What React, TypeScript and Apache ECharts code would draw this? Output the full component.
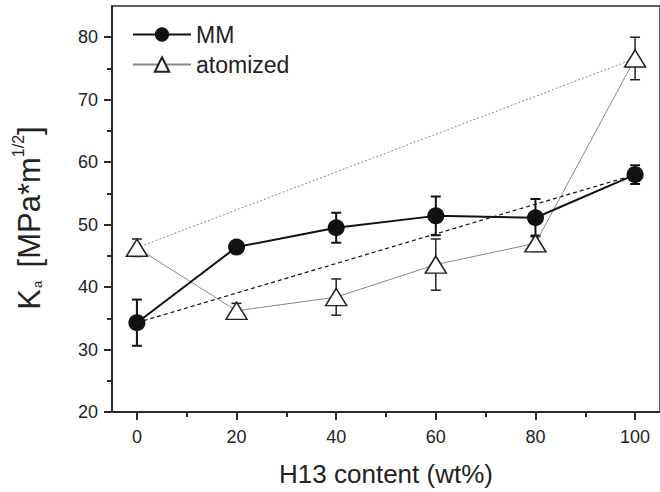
import React, { useEffect, useRef } from 'react';
import * as echarts from 'echarts';

const xValues = [0, 20, 40, 60, 80, 100];
const mmValues = [34.3, 46.4, 49.5, 51.4, 51.1, 58.0];
const mmErrors = [3.7, 0.6, 2.4, 3.1, 3.0, 1.5];
const atomValues = [46.3, 36.2, 38.4, 43.6, 47.0, 76.6];
const atomErrors = [1.4, 1.2, 2.9, 4.1, 1.3, 3.4];
const xMajorTicks = [0, 20, 40, 60, 80, 100];
const xMinorTicks = [10, 30, 50, 70, 90];
const yMajorTicks = [20, 30, 40, 50, 60, 70, 80];
const yMinorTicks = [25, 35, 45, 55, 65, 75];

const FONT = '"Liberation Sans", Arial, Helvetica, sans-serif';
const AXIS = '#2a2a2a';

function errorSeries(values: number[], errors: number[], color: string, width: number) {
  return {
    type: 'custom',
    z: 2,
    silent: true,
    data: xValues.map((x, i) => [x, values[i] - errors[i], values[i] + errors[i]]),
    encode: { x: 0, y: [1, 2] },
    renderItem: (params: any, api: any) => {
      const x = api.value(0);
      const lo = api.coord([x, api.value(1)]);
      const hi = api.coord([x, api.value(2)]);
      const w = 5;
      const style = { stroke: color, lineWidth: width };
      return {
        type: 'group',
        children: [
          { type: 'line', shape: { x1: hi[0], y1: hi[1], x2: lo[0], y2: lo[1] }, style },
          { type: 'line', shape: { x1: hi[0] - w, y1: hi[1], x2: hi[0] + w, y2: hi[1] }, style },
          { type: 'line', shape: { x1: lo[0] - w, y1: lo[1], x2: lo[0] + w, y2: lo[1] }, style },
        ],
      };
    },
  };
}

export default function App() {
  const ref = useRef<HTMLDivElement>(null);
  useEffect(() => {
    if (!ref.current) return;
    const chart = echarts.init(ref.current, null, { renderer: 'svg' });
    const last = xValues.length - 1;
    chart.setOption({
      animation: false,
      backgroundColor: '#fff',
      textStyle: { fontFamily: FONT },
      grid: {
        left: 112, right: -7, top: 6, bottom: 79,
        show: true, borderColor: AXIS, borderWidth: 1.5, backgroundColor: 'transparent',
      },
      legend: {
        orient: 'vertical',
        left: 132,
        top: 23,
        padding: 0,
        itemWidth: 58,
        itemHeight: 18,
        itemGap: 7,
        data: ['MM', 'atomized'],
        textStyle: { fontSize: 23, color: '#222', fontFamily: FONT },
      },
      xAxis: [
        {
          type: 'value', min: -5, max: 105,
          name: 'H13 content (wt%)', nameLocation: 'middle', nameGap: 49,
          nameTextStyle: { fontSize: 26, color: '#222', fontFamily: FONT },
          axisLine: { show: true, onZero: false, lineStyle: { color: AXIS, width: 2 } },
          axisTick: { show: true, customValues: xMajorTicks, length: 8, lineStyle: { color: AXIS, width: 2 } },
          axisLabel: { customValues: xMajorTicks, fontSize: 18, color: '#222', margin: 16, fontFamily: FONT },
          splitLine: { show: false },
        },
        {
          type: 'value', min: -5, max: 105, position: 'bottom',
          axisLine: { show: false, onZero: false },
          axisTick: { show: true, customValues: xMinorTicks, length: 5, lineStyle: { color: AXIS, width: 2 } },
          axisLabel: { show: false },
          splitLine: { show: false },
        },
      ],
      yAxis: [
        {
          type: 'value', min: 20, max: 85,
          name: '{k|K}{sub|a}    {t|[MPa*m}{sup|1/2}{t|]}',
          nameLocation: 'middle', nameGap: 64, nameRotate: 90,
          nameTextStyle: {
            color: '#222', fontFamily: FONT, padding: [0, 0, 0, -18],
            rich: {
              k: { fontSize: 31, color: '#222', fontFamily: FONT, lineHeight: 38 },
              t: { fontSize: 31, color: '#222', fontFamily: FONT, lineHeight: 38 },
              sub: { fontSize: 13, color: '#222', fontFamily: FONT, verticalAlign: 'bottom', lineHeight: 38, padding: [0, 0, 4, 1] },
              sup: { fontSize: 16, color: '#222', fontFamily: FONT, verticalAlign: 'top', lineHeight: 38 },
            },
          },
          axisLine: { show: true, onZero: false, lineStyle: { color: AXIS, width: 2 } },
          axisTick: { show: true, customValues: yMajorTicks, length: 8, lineStyle: { color: AXIS, width: 2 } },
          axisLabel: { customValues: yMajorTicks, fontSize: 18, color: '#222', margin: 14, fontFamily: FONT },
          splitLine: { show: false },
        },
        {
          type: 'value', min: 20, max: 85, position: 'left',
          axisLine: { show: false, onZero: false },
          axisTick: { show: true, customValues: yMinorTicks, length: 5, lineStyle: { color: AXIS, width: 2 } },
          axisLabel: { show: false },
          splitLine: { show: false },
        },
      ],
      series: [
        {
          type: 'line', name: 'mm-rule', silent: true, z: 1,
          data: [[xValues[0], mmValues[0]], [xValues[last], mmValues[last]]],
          symbol: 'none',
          lineStyle: { color: '#111', width: 1.2, type: [4, 3] },
        },
        {
          type: 'line', name: 'atom-rule', silent: true, z: 1,
          data: [[xValues[0], atomValues[0]], [xValues[last], atomValues[last]]],
          symbol: 'none',
          lineStyle: { color: '#888', width: 1, type: [2, 2] },
        },
        errorSeries(atomValues, atomErrors, '#222', 1.5),
        errorSeries(mmValues, mmErrors, '#111', 2),
        {
          type: 'line', name: 'atomized', z: 3,
          data: xValues.map((x, i) => [x, atomValues[i]]),
          symbol: 'triangle', symbolSize: [21, 17],
          lineStyle: { color: '#888', width: 1 },
          itemStyle: { color: '#fff', borderColor: '#222', borderWidth: 1.5 },
        },
        {
          type: 'line', name: 'MM', z: 4,
          data: xValues.map((x, i) => [x, mmValues[i]]),
          symbol: 'circle', symbolSize: 17,
          lineStyle: { color: '#111', width: 2 },
          itemStyle: { color: '#111', borderColor: '#111', borderWidth: 0 },
        },
      ],
    });
    return () => chart.dispose();
  }, []);
  return <div ref={ref} style={{ width: 660, height: 492, position: 'absolute', left: 0, top: 0 }} />;
}
